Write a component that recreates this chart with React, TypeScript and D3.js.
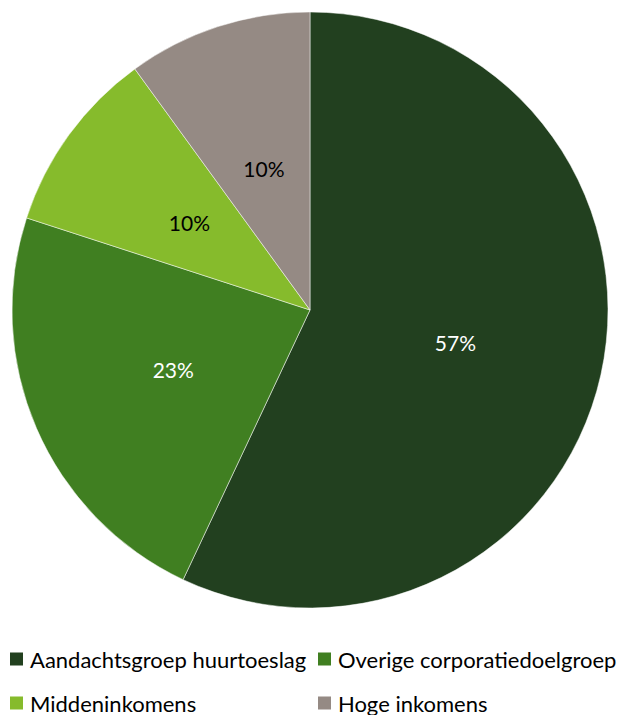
import React from "react";
import * as d3 from "d3";

const categories = ["Aandachtsgroep huurtoeslag", "Overige corporatiedoelgroep", "Middeninkomens", "Hoge inkomens"];
const values = [57, 23, 10, 10];
const colors = ["#22401F", "#407F21", "#86BB2C", "#958A84"];
const labelColors = ["#ffffff", "#ffffff", "#000000", "#000000"];

const W = 621, H = 715;
const cx = 310, cy = 310, R = 298;
const FONT = "Lato, 'Open Sans', sans-serif";

export default function App() {
  const pie = d3.pie<number>().sort(null).value((d) => d)(values);
  const arc = d3.arc<d3.PieArcDatum<number>>().innerRadius(0).outerRadius(R);
  const labelArc = d3.arc<d3.PieArcDatum<number>>().innerRadius(R / 2).outerRadius(R / 2);
  const legendPos = [
    { x: 10, y: 659 },
    { x: 318, y: 659 },
    { x: 10, y: 703 },
    { x: 318, y: 703 },
  ];
  return (
    <svg width={W} height={H} style={{ position: "absolute", left: 0, top: 0, background: "#fff" }}>
      <g transform={`translate(${cx},${cy})`}>
        {pie.map((p, i) => (
          <path key={i} d={arc(p) || ""} fill={colors[i]} stroke="#ffffff" strokeWidth={0.5} />
        ))}
        {pie.map((p, i) => {
          const [x, y] = labelArc.centroid(p);
          return (
            <text key={i} x={x} y={y} textAnchor="middle" dominantBaseline="central"
              fontFamily={FONT} fontSize={21} fill={labelColors[i]}>
              {d3.format(".0%")(p.data / 100)}
            </text>
          );
        })}
      </g>
      {categories.map((c, i) => (
        <g key={c} transform={`translate(${legendPos[i].x},${legendPos[i].y})`}>
          <rect x={0} y={-6.5} width={13} height={13} fill={colors[i]} />
          <text x={20} y={0} dominantBaseline="central" fontFamily={FONT} fontSize={22} fill="#000">{c}</text>
        </g>
      ))}
    </svg>
  );
}
